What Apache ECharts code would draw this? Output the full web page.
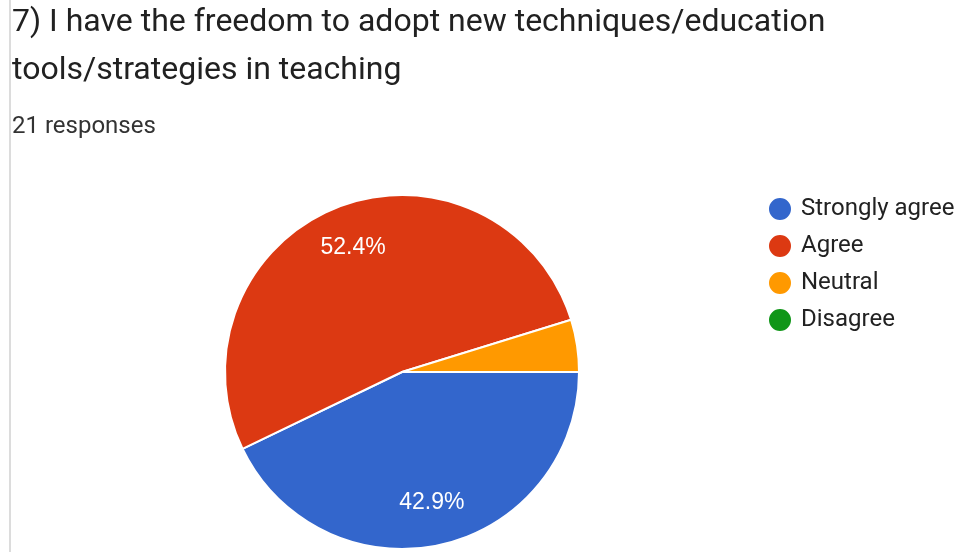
<!DOCTYPE html>
<html>
<head>
<meta charset="utf-8">
<script src="https://cdn.jsdelivr.net/npm/echarts@6/dist/echarts.min.js"></script>
<style>
html,body{margin:0;padding:0;background:#fff;}
#c{width:957px;height:552px;}
</style>
</head>
<body>
<div id="c"></div>
<script>
var titleText = '7) I have the freedom to adopt new techniques/education\ntools/strategies in teaching';
var subtitleText = '21 responses';
var categories = ['Strongly agree', 'Agree', 'Neutral', 'Disagree'];
var counts = [9, 11, 1, 0];
var colors = ['#3366cc', '#dc3912', '#ff9900', '#109618'];

var total = counts.reduce(function (a, b) { return a + b; }, 0);
var data = categories.map(function (n, i) { return { name: n, value: counts[i] }; });
var pieCenter = [402, 372];
var pieR = 177;

var chart = echarts.init(document.getElementById('c'), null, { renderer: 'canvas' });
chart.setOption({
  animation: false,
  color: colors,
  graphic: [{
    type: 'rect', left: 9, top: 0, shape: { width: 2, height: 552 },
    style: { fill: '#dcdcdc' }, silent: true
  }],
  title: [{
    text: titleText, left: 12, top: -1, padding: 0,
    textStyle: { fontFamily: 'Roboto', fontSize: 32, fontWeight: 'normal', color: '#212121', lineHeight: 48 }
  }, {
    text: subtitleText, left: 12, top: 115, padding: 0,
    textStyle: { fontFamily: 'Roboto', fontSize: 24, fontWeight: 'normal', color: '#333333', lineHeight: 24 }
  }],
  legend: {
    orient: 'vertical', left: 767, top: 196, padding: 0,
    icon: 'circle', itemWidth: 24, itemHeight: 24, itemGap: 11,
    data: categories,
    textStyle: { fontFamily: 'Roboto', fontSize: 24, color: '#222222', padding: [0, 0, 0, 4] }
  },
  series: [{
    type: 'pie', center: pieCenter, radius: pieR, startAngle: 0, clockwise: true,
    data: data,
    label: { show: false }, labelLine: { show: false },
    itemStyle: { borderColor: '#ffffff', borderWidth: 2 },
    emphasis: { disabled: true }
  }, {
    type: 'pie', center: pieCenter, radius: [pieR * 0.48, pieR], startAngle: 0, clockwise: true,
    data: data, silent: true,
    itemStyle: { color: 'transparent', borderWidth: 0 },
    labelLine: { show: false },
    label: {
      show: true, position: 'inside',
      fontFamily: 'Liberation Sans', fontSize: 23, color: '#ffffff',
      formatter: function (p) {
        var pct = p.value / total * 100;
        return pct >= 10 ? pct.toFixed(1) + '%' : '';
      }
    },
    emphasis: { disabled: true }
  }]
});
</script>
</body>
</html>
